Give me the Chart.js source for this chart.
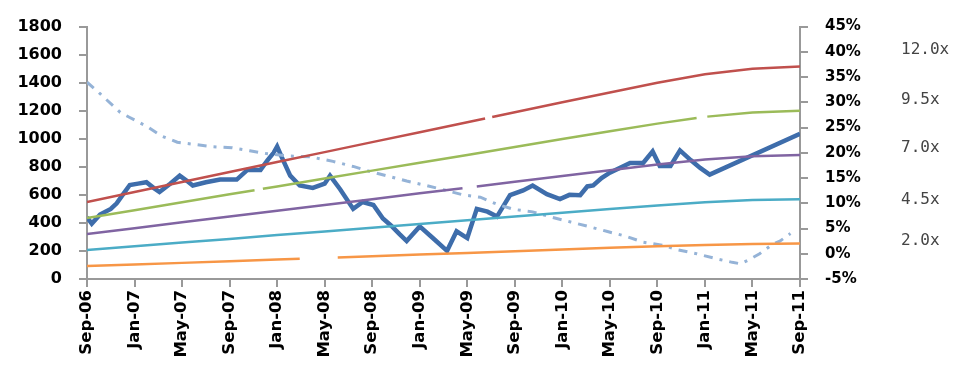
<!DOCTYPE html>
<html>
<head>
<meta charset="utf-8">
<script src="https://cdn.jsdelivr.net/npm/chart.js@4.4.1/dist/chart.umd.min.js"></script>
<style>
  html, body { margin: 0; padding: 0; background: #fff; }
  #wrap { width: 955px; height: 366px; }
</style>
</head>
<body>
<div id="wrap"><canvas id="chart" width="955" height="366"></canvas></div>
<script>
// x values are months since Sep-06
const tickLabels = ["Sep-06","Jan-07","May-07","Sep-07","Jan-08","May-08","Sep-08","Jan-09",
  "May-09","Sep-09","Jan-10","May-10","Sep-10","Jan-11","May-11","Sep-11"];

const priceMonths = [0,0.4,1.1,2,2.5,3,3.6,4.3,5,5.6,6.1,7,7.8,8.4,8.9,10,11.2,12.6,13.5,14.6,15.2,15.7,16,
  16.5,17.1,17.9,19,20,20.45,21.3,22.4,23.2,24.1,24.9,25.6,26.3,26.9,28,29.1,30.3,31.1,32,32.8,33.7,34.5,
  35.6,36.7,37.5,38.7,39.8,40.6,41.5,42.1,42.6,43.3,44,45.7,46.8,47.6,48.2,49.1,49.9,50.8,51.6,52.4,60];
const priceValues = [440,395,460,500,540,600,670,680,690,650,620,680,737,700,667,690,709,709,778,778,848,900,945,
  848,737,667,650,680,737,640,500,549,528,431,380,320,271,375,292,201,340,292,500,480,445,
  598,632,667,605,570,600,598,660,667,720,758,827,827,910,806,806,917,848,792,744,1035];

const yieldMonths = [0,1.1,2.8,3.6,5.05,6.3,7.6,8.9,10.6,12.2,13.7,15.2,16.8,18.8,20.7,22.4,23.8,25.3,26.9,
  28.6,30.3,31.6,33.1,34.5,35.9,37.5,39,40.7,42.2,43.8,45.3,46.8,48.4,49.7,51.3,53,54.3,55,55.6,56.6,57.7,58.3,59.2];
const yieldValues = [34,31.7,28,27,25.2,23.3,22.1,21.7,21.2,21,20.4,19.8,19.4,19.2,18.3,17.3,16.3,15.4,14.4,
  13.5,12.5,11.7,11.2,9.8,8.8,8.3,7.3,6.3,5.4,4.4,3.5,2.3,1.7,0.8,0,-1,-1.7,-2,-1.3,0,1.9,2.5,4];

const band120Months = [0,4,8,12,16,20,24,28,32,33.5,33.8,34.1,36,40,44,48,52,56,60];
const band120 = [549,620,692,763,834,905,976,1047,1118,1145,null,1155,1189,1260,1330,1400,1460,1500,1515];
const band95Months = [0,4,8,12,14.1,14.4,14.8,16,20,24,28,32,36,40,44,48,51.3,51.7,52.2,56,60];
const band95 = [435,491,548,604,633,null,643,660,716,773,829,885,941,998,1053,1108,1148,null,1158,1188,1199];
const band70Months = [0,4,8,12,16,20,24,28,31.6,32.2,32.8,36,40,44,48,52,56,60];
const band70 = [320,362,404,445,487,528,569,611,648,null,660,694,735,776,817,852,875,884];
const band45Months = [0,4,8,12,16,20,24,28,32,36,40,44,48,52,56,60];
const band45 = [206,233,260,286,313,339,366,393,419,446,473,499,525,548,563,568];
const band20Months = [0,4,8,12,16,17.9,19.5,21.1,24,28,32,36,40,44,48,52,56,60];
const band20 = [92,103,115,127,139,145,null,154,163,175,186,198,210,222,233,243,250,253];

const multipleLabels = ["12.0x","9.5x","7.0x","4.5x","2.0x"];

function pts(xs, ys) {
  return xs.map((x, i) => ({ x: x, y: ys[i] }));
}

function band(xs, ys, color) {
  return {
    data: pts(xs, ys), yAxisID: "y", borderColor: color, borderWidth: 2.5,
    pointRadius: 0, spanGaps: false, tension: 0
  };
}

// text labels for the multiples on the far right
const multiplesPlugin = {
  id: "multiples",
  afterDraw(chart) {
    const ctx = chart.ctx;
    const ys = [50, 100, 148, 200, 241];
    ctx.save();
    ctx.font = "16px 'DejaVu Sans Mono'";
    ctx.fillStyle = "#444";
    ctx.textBaseline = "middle";
    ctx.textAlign = "left";
    multipleLabels.forEach((t, i) => ctx.fillText(t, 901, ys[i]));
    ctx.restore();
  }
};

const axisGrid = { drawOnChartArea: false, drawTicks: true, tickLength: 8, color: "#999", lineWidth: 2 };
const axisBorder = { display: true, color: "#999", width: 2 };
const boldFont = size => ({ family: "DejaVu Sans", weight: "bold", size: size });

new Chart(document.getElementById("chart"), {
  type: "line",
  data: {
    datasets: [
      band(band20Months, band20, "#f79646"),
      band(band45Months, band45, "#4bacc6"),
      band(band70Months, band70, "#8064a2"),
      band(band95Months, band95, "#9bbb59"),
      band(band120Months, band120, "#c0504d"),
      {
        data: pts(yieldMonths, yieldValues), yAxisID: "y1", borderColor: "#95b3d7",
        borderWidth: 3, borderDash: [9, 7, 3, 7], pointRadius: 0, tension: 0
      },
      {
        data: pts(priceMonths, priceValues), yAxisID: "y", borderColor: "#3e6dab",
        borderWidth: 4.5, pointRadius: 0, tension: 0
      }
    ]
  },
  options: {
    responsive: false,
    animation: false,
    layout: { padding: { top: 20, left: 0, right: 0, bottom: 0 } },
    plugins: { legend: { display: false }, tooltip: { enabled: false } },
    scales: {
      x: {
        type: "linear", min: 0, max: 60,
        grid: axisGrid, border: axisBorder,
        ticks: {
          stepSize: 4, autoSkip: false, minRotation: 90, maxRotation: 90, padding: 3,
          color: "#000", font: boldFont(16.5),
          callback: v => tickLabels[Math.round(v / 4)]
        },
        afterFit: s => { s.height = 87; }
      },
      y: {
        position: "left", min: 0, max: 1800,
        grid: axisGrid, border: axisBorder,
        ticks: {
          stepSize: 200, padding: 17, color: "#000", font: boldFont(16),
          callback: v => String(v)
        },
        afterFit: s => { s.width = 87; }
      },
      y1: {
        position: "right", min: -5, max: 45,
        grid: axisGrid, border: axisBorder,
        ticks: {
          stepSize: 5, padding: 17, color: "#000", font: boldFont(15),
          callback: v => v + "%"
        },
        afterFit: s => { s.width = 155; }
      }
    }
  },
  plugins: [multiplesPlugin]
});
</script>
</body>
</html>
